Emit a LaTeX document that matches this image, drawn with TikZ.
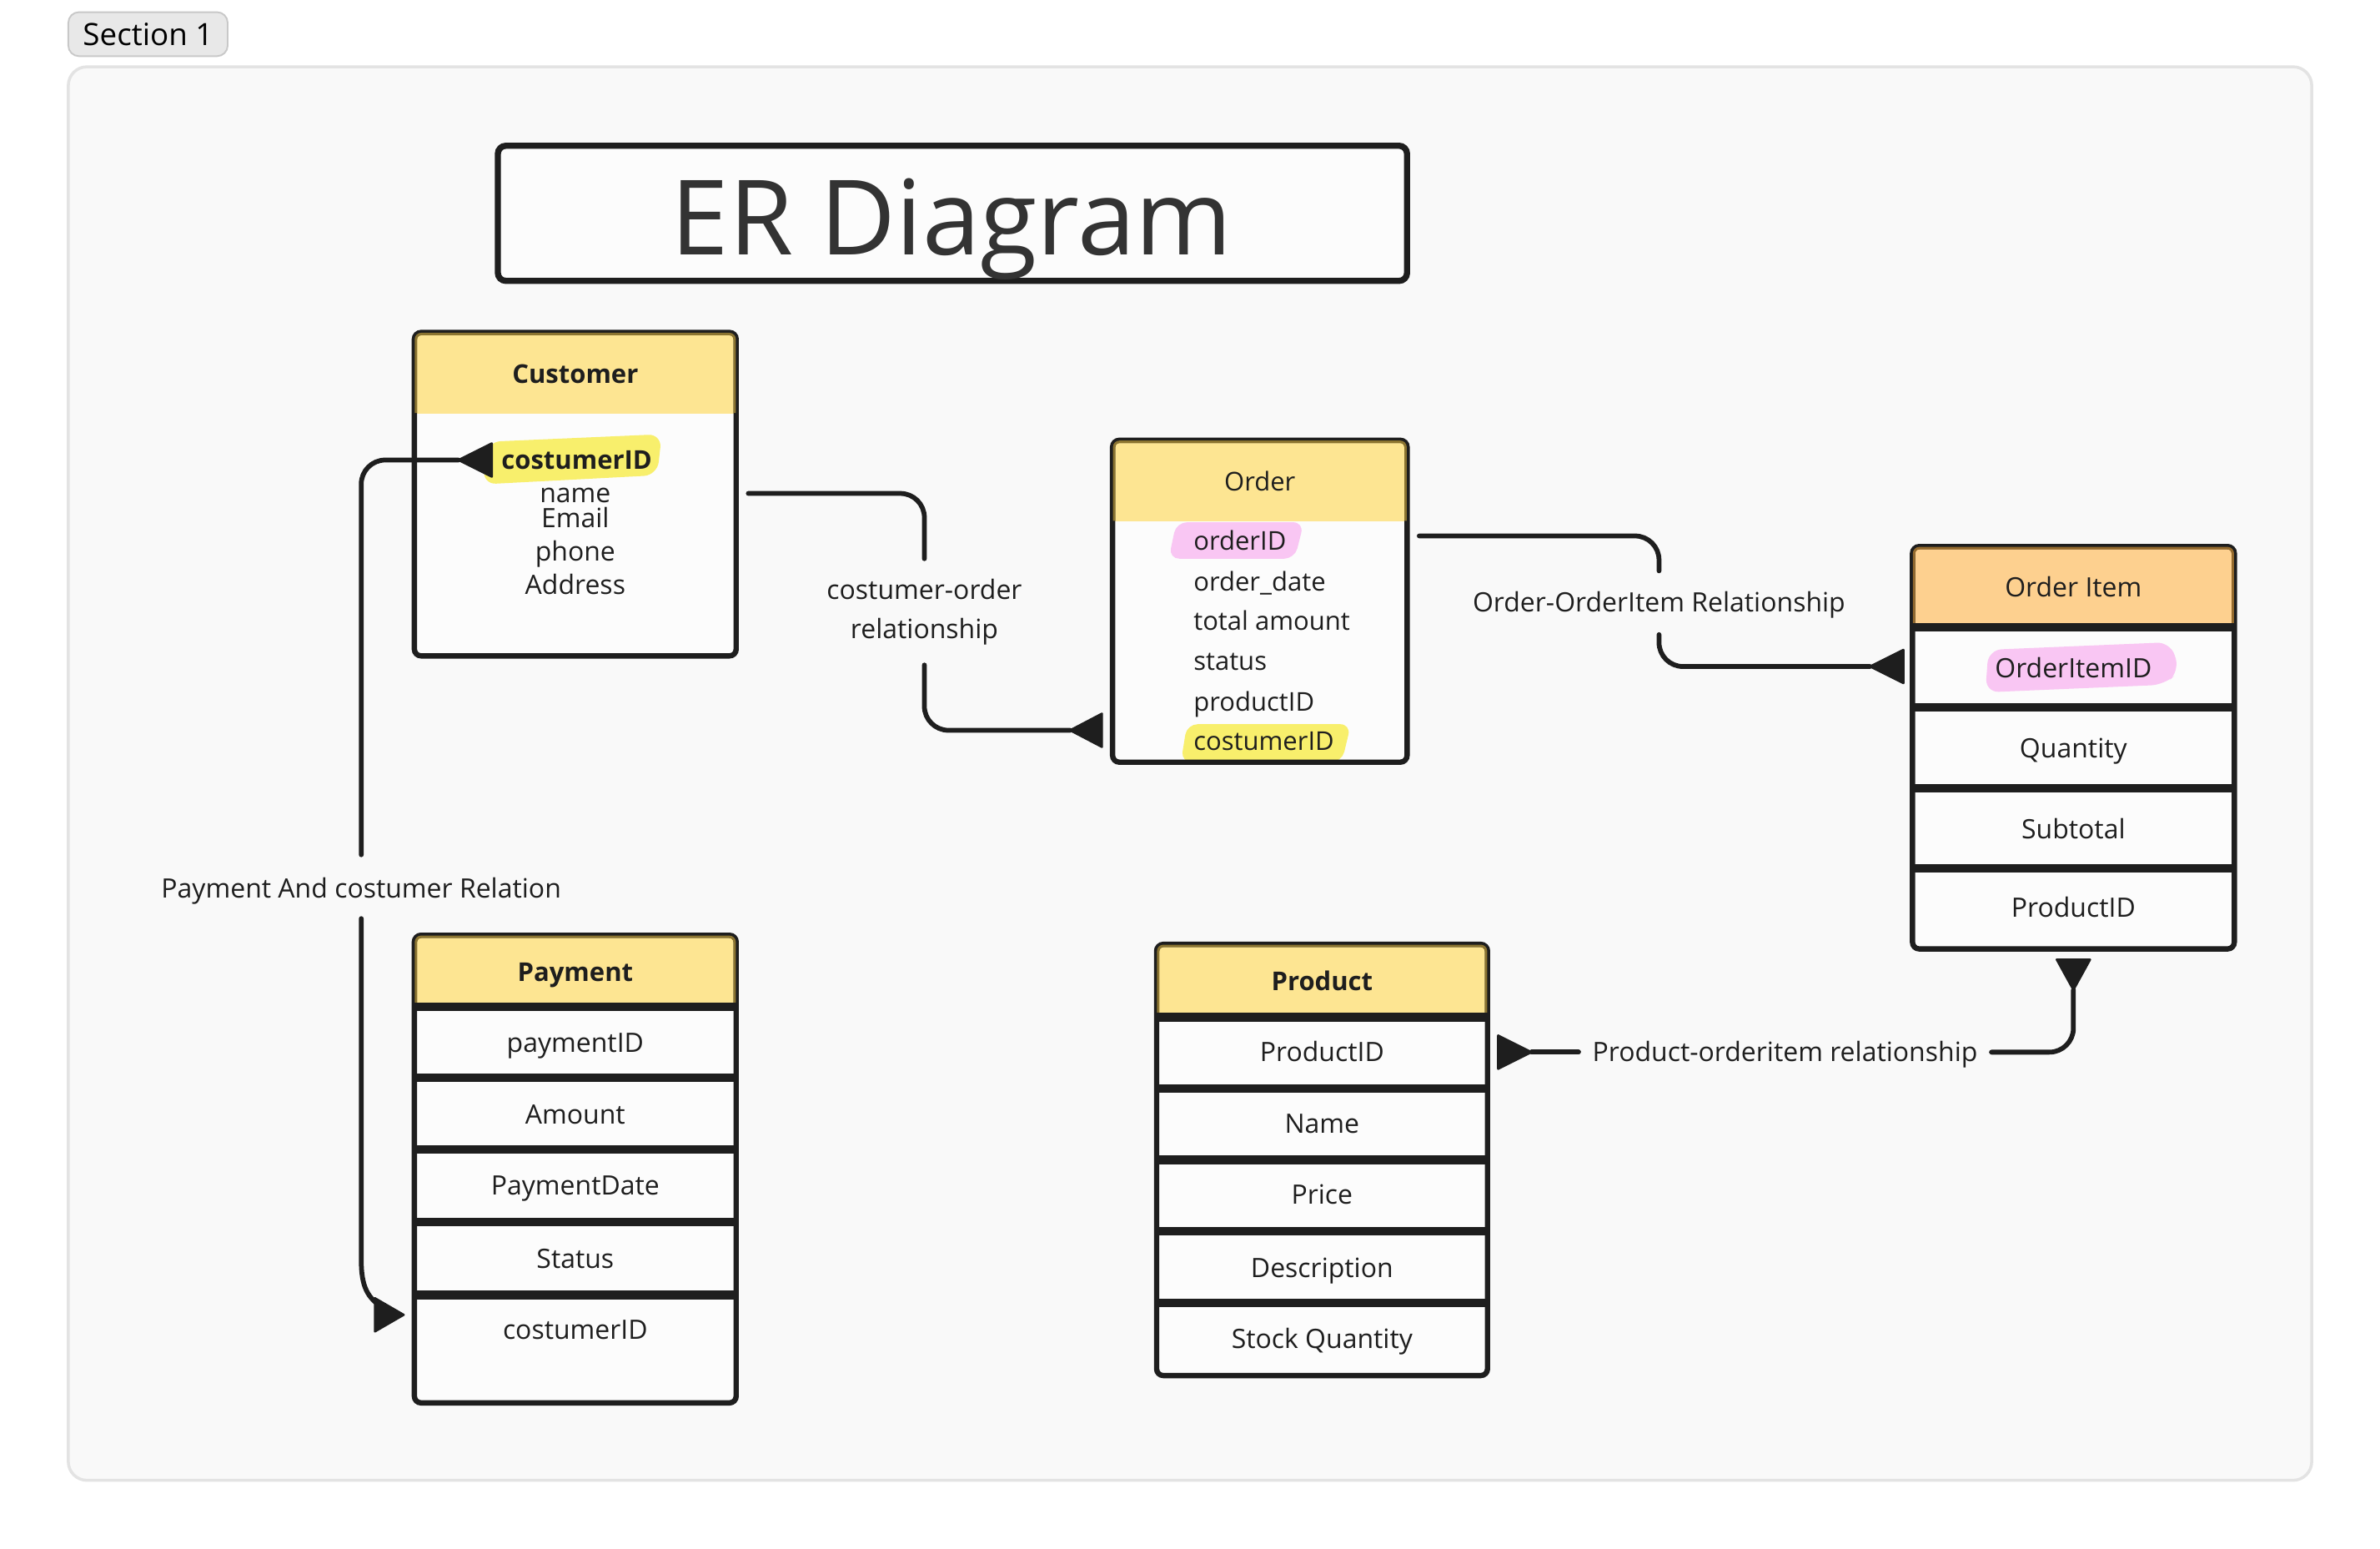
\documentclass[tikz,border=0pt]{standalone}
\usepackage{fontspec}
\setmainfont{Open Sans}
\usetikzlibrary{fit,calc}
\definecolor{ink}{HTML}{1E1E1E}
\definecolor{txtc}{HTML}{1E1E1E}
\definecolor{ttlc}{HTML}{333333}
\definecolor{hdyel}{HTML}{FDE592}
\definecolor{hdorg}{HTML}{FDD08F}
\definecolor{rimyel}{HTML}{8B7430}
\definecolor{rimorg}{HTML}{946A2D}
\definecolor{hlyel}{HTML}{F8EF6C}
\definecolor{hlpink}{HTML}{F9C6F3}
\definecolor{framefill}{HTML}{F9F9F9}
\definecolor{frameline}{HTML}{E3E3E3}
\definecolor{tagfill}{HTML}{E8E8E8}
\definecolor{tagline}{HTML}{C8C8C8}
\definecolor{cellfill}{HTML}{FCFCFC}
\newcommand{\ertable}[7]{%
  \coordinate (#1-nw) at (#2,#3);
  \coordinate (#1-se) at (#4,#5);
  \node[fit=(#1-nw)(#1-se), inner sep=0pt] (#1) {};
  \fill[cellfill, rounded corners=2.5pt] (#1-nw) rectangle (#1-se);
  \begin{scope}
    \clip (#2-5,#3-5) rectangle (#4+5,#6);
    \fill[#7, rounded corners=2.5pt] (#1-nw) rectangle (#1-se);
  \end{scope}}
\newcommand{\errim}[6]{%
  \draw[#6, line width=0.9pt, rounded corners=2pt] (#2+1,#5) -- (#2+1,#3+1) -- (#4-1,#3+1) -- (#4-1,#5);}
\begin{document}
\begin{tikzpicture}[x=0.02cm,y=-0.02cm,
  txt/.style={inner sep=0pt, text=txtc, font=\fontsize{10}{12}\selectfont, text height=7.1pt, text depth=0pt},
  otxt/.style={txt, font=\fontsize{9.7}{12}\selectfont},
  hd/.style={txt, font=\fontsize{9.7}{12}\selectfont\bfseries},
  lbl2/.style={inner sep=0pt, text=txtc, font=\fontsize{10}{14.8}\selectfont, align=center},
  box/.style={draw=ink, line width=2pt, rounded corners=2.5pt},
  sep/.style={draw=ink, line width=3.2pt},
  conn/.style={draw=ink, line width=1.8pt, line cap=round, rounded corners=9pt},
  tip/.style={fill=ink, draw=ink, line width=0.8pt, line join=round}]
\useasboundingbox (0,0) rectangle (1568,1020);
\fill[white] (0,0) rectangle (1568,1020);
% frame and tag
\coordinate (frA) at (45,44); \coordinate (frB) at (1523,975);
\node[fit=(frA)(frB), inner sep=0pt, draw=frameline, fill=framefill, line width=1.1pt, rounded corners=7pt] (frame) {};
\coordinate (tgA) at (45,8); \coordinate (tgB) at (150,37);
\node[fit=(tgA)(tgB), inner sep=0pt, draw=tagline, fill=tagfill, line width=0.6pt, rounded corners=4pt] (tag) {};
\node[txt, font=\fontsize{11.5}{13}\selectfont, text=black, text height=8.2pt] (tagtxt) at (tag.center) {Section 1};
% title
\coordinate (tA) at (328,96); \coordinate (tB) at (927,185);
\node[fit=(tA)(tB), inner sep=0pt, draw=ink, line width=2.3pt, rounded corners=3pt, fill=cellfill] (titlebox) {};
\node[anchor=base, inner sep=0pt, text=ttlc, font=\fontsize{39}{44}\selectfont] (title) at (627,168) {ER Diagram};
% tables
\ertable{cust}{273}{219}{485}{432}{272}{hdyel}
\ertable{ord}{733}{290}{927}{502}{343}{hdyel}
\ertable{oi}{1260}{360}{1472}{625}{413}{hdorg}
\ertable{prod}{762}{622}{980}{906}{670}{hdyel}
\ertable{pay}{273}{616}{485}{924}{663}{hdyel}
% highlights
\fill[hlyel, rounded corners=5pt] (321,291) -- (436,286) -- (433,313) -- (318,319) -- cycle;
\fill[hlpink, rounded corners=4pt] (775,344) -- (859,344) -- (853,368) -- (770,368) -- cycle;
\fill[hlyel, rounded corners=4pt] (782,477) -- (890,477) -- (884,502) -- (778,502) -- cycle;
\fill[hlpink, rounded corners=5pt] (1310,428) -- (1430,423) -- (1436,442) -- (1426,451) -- (1308,456) -- cycle;
% borders
\foreach \t in {cust,ord,oi,prod,pay} \draw[box] (\t-nw) rectangle (\t-se);
\errim{cust}{273}{219}{485}{272}{rimyel}
\errim{ord}{733}{290}{927}{343}{rimyel}
\errim{oi}{1260}{360}{1472}{411}{rimorg}
\errim{prod}{762}{622}{980}{668}{rimyel}
\errim{pay}{273}{616}{485}{661}{rimyel}
% separators
\foreach \y in {413,466,519,572} \draw[sep] (1260,\y) -- (1472,\y);
\foreach \y in {670,717,764,811,858} \draw[sep] (762,\y) -- (980,\y);
\foreach \y in {663,710,757,805,853} \draw[sep] (273,\y) -- (485,\y);
% Customer texts
\node[hd] (cust-h) at (379,246) {Customer};
\node[hd, text=ink] (cust-1) at (380,303) {costumerID};
\node[txt] (cust-2) at (379,325) {name};
\node[txt] (cust-3) at (379,341) {Email};
\node[txt] (cust-4) at (379,363) {phone};
\node[txt] (cust-5) at (379,385) {Address};
% Order texts
\node[otxt] (ord-h) at (830,317) {Order};
\node[otxt, anchor=west] (ord-1) at (786,356) {orderID};
\node[otxt, anchor=west] (ord-2) at (786,383) {order\_date};
\node[otxt, anchor=west] (ord-3) at (786,409) {total amount};
\node[otxt, anchor=west] (ord-4) at (786,435) {status};
\node[otxt, anchor=west] (ord-5) at (786,462) {productID};
\node[otxt, anchor=west] (ord-6) at (786,488) {costumerID};
% Order Item texts
\node[txt] (oi-h) at (1366,387) {Order Item};
\node[txt] (oi-1) at (1366,440) {OrderItemID};
\node[txt] (oi-2) at (1366,493) {Quantity};
\node[txt] (oi-3) at (1366,546) {Subtotal};
\node[txt] (oi-4) at (1366,598) {ProductID};
% Product texts
\node[hd] (prod-h) at (871,646) {Product};
\node[txt] (prod-1) at (871,693) {ProductID};
\node[txt] (prod-2) at (871,740) {Name};
\node[txt] (prod-3) at (871,787) {Price};
\node[txt] (prod-4) at (871,835) {Description};
\node[txt] (prod-5) at (871,882) {Stock Quantity};
% Payment texts
\node[hd] (pay-h) at (379,640) {Payment};
\node[txt] (pay-1) at (379,687) {paymentID};
\node[txt] (pay-2) at (379,734) {Amount};
\node[txt] (pay-3) at (379,781) {PaymentDate};
\node[txt] (pay-4) at (379,829) {Status};
\node[txt] (pay-5) at (379,876) {costumerID};
% relationship labels
\node[lbl2] (co-lbl) at (609,403) {costumer-order\\relationship};
\node[txt] (oo-lbl) at (1093,397) {Order-OrderItem Relationship};
\node[txt] (pc-lbl) at (238,585) {Payment And costumer Relation};
\node[txt] (po-lbl) at (1176,693) {Product-orderitem relationship};
% customer - order
\coordinate (co-a) at (493,325);
\coordinate (co-b) at (609,368);
\coordinate (co-c) at (609,438);
\coordinate (co-d) at (705,481);
\draw[conn] (co-a) -| (co-b);
\draw[conn] (co-c) |- (co-d);
\filldraw[tip] (co-d) -- (726,470) -- (726,492) -- cycle;
% order - order item
\coordinate (oo-a) at (935,353);
\coordinate (oo-b) at (1093,376);
\coordinate (oo-c) at (1093,418);
\coordinate (oo-d) at (1232,439);
\draw[conn] (oo-a) -| (oo-b);
\draw[conn] (oo-c) |- (oo-d);
\filldraw[tip] (oo-d) -- (1254,428) -- (1254,450) -- cycle;
% customer - payment
\coordinate (pc-a) at (302,303);
\coordinate (pc-b) at (238,563);
\coordinate (pc-c) at (238,605);
\coordinate (pc-d) at (252,861);
\filldraw[tip] (pc-a) -- (324,292) -- (324,314) -- cycle;
\draw[conn] (pc-a) -| (pc-b);
\draw[conn, sharp corners] (pc-c) -- (238,830) .. controls (238,847) and (242,855) .. (pc-d);
\filldraw[tip] (266,866) -- (247,855) -- (247,877) -- cycle;
% product - order item
\coordinate (po-a) at (1009,693);
\coordinate (po-b) at (1040,693);
\coordinate (po-c) at (1312,693);
\coordinate (po-d) at (1366,652);
\filldraw[tip] (po-a) -- (987,682) -- (987,704) -- cycle;
\draw[conn] (po-a) -- (po-b);
\draw[conn] (po-c) -| (po-d);
\filldraw[tip] (po-d) -- (1355,632) -- (1377,632) -- cycle;
\end{tikzpicture}
\end{document}
